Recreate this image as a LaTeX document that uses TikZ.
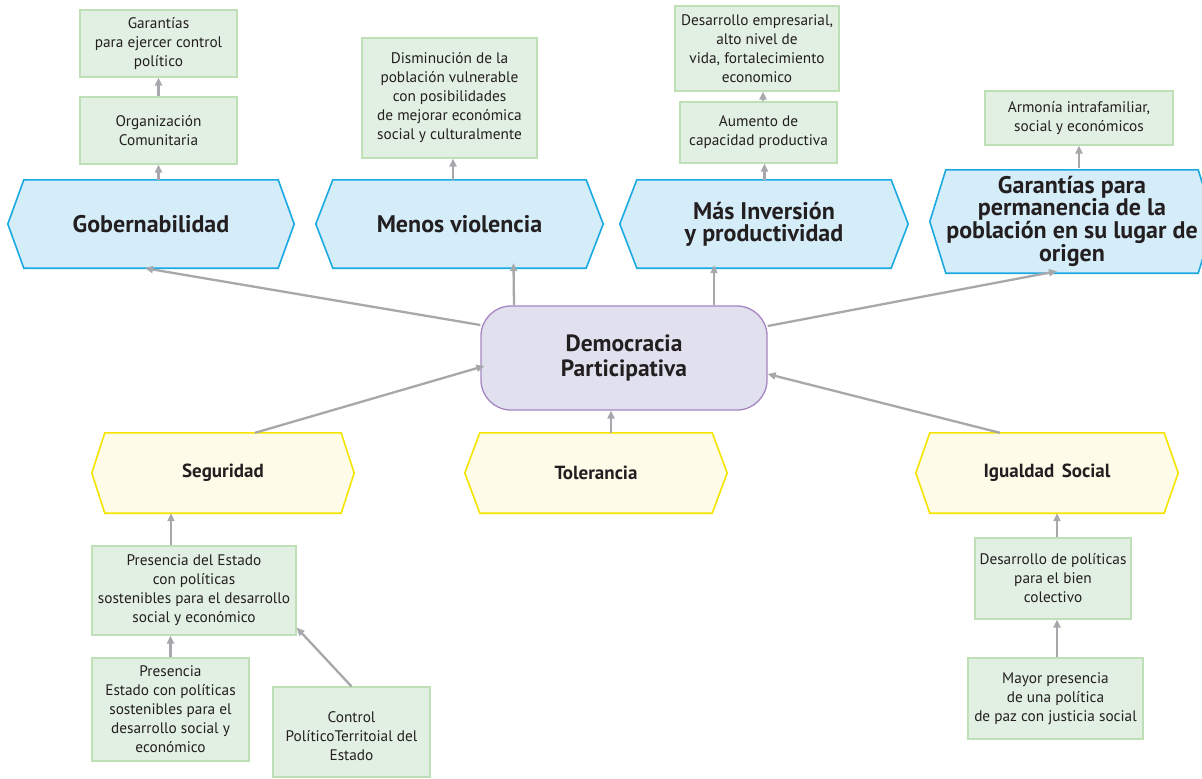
\documentclass[tikz,border=0pt]{standalone}
\usepackage{fontspec}
\setmainfont{PT Sans}
\usetikzlibrary{calc,arrows.meta,backgrounds}

\definecolor{txt}{HTML}{231F20}
\definecolor{bluefill}{HTML}{D5ECF9}
\definecolor{blueline}{HTML}{1AA9E1}
\definecolor{yelfill}{HTML}{FEFBE9}
\definecolor{yelline}{HTML}{F5E400}
\definecolor{grnfill}{HTML}{E2F0E3}
\definecolor{grnline}{HTML}{BFE0B6}
\definecolor{purfill}{HTML}{E1E0EF}
\definecolor{purline}{HTML}{A586C1}
\definecolor{arrgray}{HTML}{A7A8AB}

\tikzset{
  every node/.style={text=txt, align=center, inner sep=0pt},
  greenbox/.style={draw=grnline, fill=grnfill, line width=1.2pt,
    font=\fontsize{15.3}{19}\selectfont},
  bluehex/.style={font=\bfseries\fontsize{24}{22}\selectfont},
  yelhex/.style={font=\bfseries\fontsize{19}{21}\selectfont},
  blueshape/.style={draw=blueline, fill=bluefill, line width=1.6pt, line join=miter},
  yelshape/.style={draw=yelline, fill=yelfill, line width=1.6pt, line join=miter},
  centerbox/.style={draw=purline, fill=purfill, line width=1.3pt,
    rounded corners=30pt, font=\bfseries\fontsize{23.5}{25}\selectfont},
  arr/.style={draw=arrgray, line width=2.3pt,
    -{Triangle[length=8pt,width=7pt]}},
}

% hexagon drawn behind a rectangular node: name, side indent, style
\newcommand{\hexfor}[3]{%
  \path[#3] ($(#1.north west)+(#2,0)$) -- ($(#1.north east)+(-#2,0)$)
    -- (#1.east) -- ($(#1.south east)+(-#2,0)$)
    -- ($(#1.south west)+(#2,0)$) -- (#1.west) -- cycle;}

\begin{document}
\begin{tikzpicture}[x=1pt,y=-1pt]
\useasboundingbox (0,0) rectangle (1202,779);

% central node
\node[centerbox, minimum width=286pt, minimum height=104pt] (dem) at (624,358)
  {Democracia\\Participativa};

% upper outcome hexagons
\node[bluehex, minimum width=286pt, minimum height=88pt] (gob) at (151,224) {Gobernabilidad};
\node[bluehex, minimum width=287pt, minimum height=88pt] (men) at (459.5,224) {Menos violencia};
\node[bluehex, minimum width=288pt, minimum height=88pt] (mas) at (764,224) {Más Inversión\\y productividad};
\node[bluehex, minimum width=284pt, minimum height=103pt] (gar) at (1072,221.5)
  {Garantías para\\permanencia de la\\población en su lugar de\\origen};

% lower cause hexagons
\node[yelhex, minimum width=262pt, minimum height=80pt] (seg) at (223,473) {Seguridad};
\node[yelhex, minimum width=262pt, minimum height=80pt] (tol) at (596,473) {Tolerancia};
\node[yelhex, minimum width=262pt, minimum height=80pt] (igu) at (1047,473) {Igualdad\hspace{0.4em}Social};

% green detail boxes
\node[greenbox, minimum width=157pt, minimum height=67pt] (g1) at (158.5,43.5)
  {Garantías\\para ejercer control\\político};
\node[greenbox, minimum width=157pt, minimum height=67pt] (g2) at (158.5,130.5)
  {Organización\\Comunitaria};
\node[greenbox, minimum width=175pt, minimum height=120pt] (dis) at (449.5,98)
  {Disminución de la\\población vulnerable\\con posibilidades\\de mejorar económica\\social y culturalmente};
\node[greenbox, minimum width=164pt, minimum height=85pt] (des) at (757,48.5)
  {Desarrollo empresarial,\\alto nivel de\\vida, fortalecimiento\\economico};
\node[greenbox, minimum width=157pt, minimum height=61pt] (aum) at (758.5,132.5)
  {Aumento de\\capacidad productiva};
\node[greenbox, minimum width=188pt, minimum height=54pt] (arm) at (1079,118)
  {Armonía intrafamiliar,\\social y económicos};
\node[greenbox, minimum width=204pt, minimum height=89pt] (pde) at (194,590.5)
  {Presencia del Estado\\con políticas\\sostenibles para el desarrollo\\social y económico};
\node[greenbox, minimum width=157pt, minimum height=103pt] (pr2) at (170.5,709.5)
  {Presencia\\Estado con políticas\\sostenibles para el\\desarrollo social y\\económico};
\node[greenbox, minimum width=157pt, minimum height=90pt] (ctl) at (351.5,732)
  {\\Control\\PolíticoTerritoial del\\Estado};
\node[greenbox, minimum width=156pt, minimum height=81pt] (ddp) at (1053,578.5)
  {Desarrollo de políticas\\para el bien\\colectivo};
\node[greenbox, minimum width=175pt, minimum height=81pt] (may) at (1055.5,698.5)
  {Mayor presencia\\de una política\\de paz con justicia social};

% hexagon outlines behind their labels
\begin{scope}[on background layer]
  \hexfor{gob}{16}{blueshape}
  \hexfor{men}{17}{blueshape}
  \hexfor{mas}{17}{blueshape}
  \hexfor{gar}{16}{blueshape}
  \hexfor{seg}{13}{yelshape}
  \hexfor{tol}{15}{yelshape}
  \hexfor{igu}{14}{yelshape}
\end{scope}

% connectors from the centre outwards
\draw[arr] ($(dem.west)+(0,-33)$) -- ($(gob.south)+(-6,0)$);
\draw[arr] ($(dem.north)+(-110,0)$) -- ($(men.south)+(54,-5)$);
\draw[arr] ($(dem.north)+(90,0)$) -- ($(mas.south)+(-50,-3)$);
\draw[arr] ($(dem.east)+(0,-32)$) -- ($(gar.south)+(-15,-2)$);

% connectors into the centre
\draw[arr] ($(seg.north)+(32,0)$) -- ($(dem.west)+(4,8)$);
\draw[arr] ($(tol.north)+(15,0)$) -- ($(dem.south)+(-13,0)$);
\draw[arr] ($(igu.north)+(-47,0)$) -- ($(dem.east)+(0,16)$);

% upper chains
\draw[arr] (gob.north -| g2.south) -- (g2.south);
\draw[arr] (g2.north) -- (g1.south);
\coordinate (disb) at ($(dis.south)+(3.5,0)$);
\draw[arr] (men.north -| disb) -- (disb);
\coordinate (aumb) at ($(aum.south)+(6,0)$);
\draw[arr] (mas.north -| aumb) -- (aumb);
\coordinate (desb) at ($(des.south)+(6,0)$);
\draw[arr] (aum.north -| desb) -- (desb);
\draw[arr] ($(gar.north)+(7,-2)$) -- (arm.south);

% lower chains
\coordinate (pdet) at ($(pde.north)+(-23,0)$);
\draw[arr] (pdet) -- (seg.south -| pdet);
\draw[arr] (pr2.north) -- (pde.south -| pr2.north);
\draw[arr] (ctl.north) -- ($(pde.south east)+(0,-8)$);
\coordinate (ddpt) at ($(ddp.north)+(4,0)$);
\draw[arr] (ddpt) -- (igu.south -| ddpt);
\draw[arr] (may.north -| ddpt) -- (ddp.south -| ddpt);
\end{tikzpicture}
\end{document}
